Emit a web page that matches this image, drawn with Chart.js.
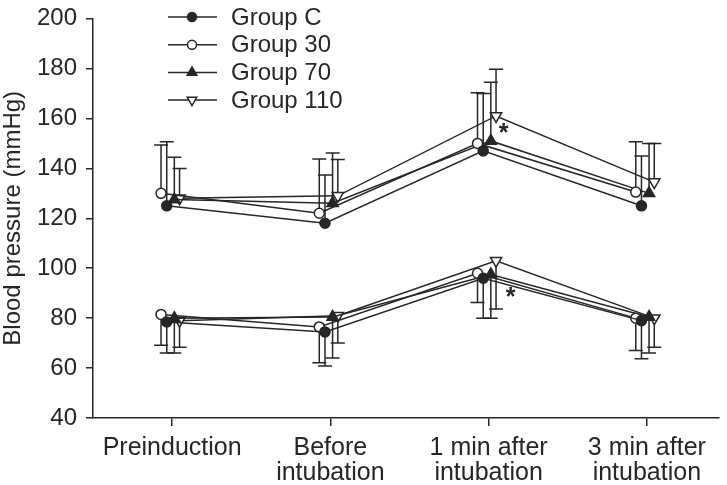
<!DOCTYPE html>
<html>
<head>
<meta charset="utf-8">
<script src="https://cdn.jsdelivr.net/npm/chart.js@4.4.1/dist/chart.umd.min.js"></script>
<style>
html, body { margin: 0; padding: 0; background: #fff; }
#wrap { width: 727px; height: 485px; }
</style>
</head>
<body>
<div id="wrap"><canvas id="bpChart" width="727" height="485"></canvas></div>
<script>
const timePoints = ['Preinduction', ['Before', 'intubation'], ['1 min after', 'intubation'], ['3 min after', 'intubation']];
const groupNames = ['Group C', 'Group 30', 'Group 70', 'Group 110'];
const yTicks = [40, 60, 80, 100, 120, 140, 160, 180, 200];

// systolic pressure (upper curves), mean and SD
const sbpC   = [125, 118, 147, 125];
const sbp30  = [130, 122, 150, 130.5];
const sbp70  = [127.5, 126, 151, 130];
const sbp110 = [128, 129, 161, 134.5];
const sbpSdC   = [25.7, 19.3, 23, 20];
const sbpSd30  = [19.4, 21.8, 20.3, 20.2];
const sbpSd70  = [17, 20.2, 23.5, 20];
const sbpSd110 = [12, 14.6, 18.7, 15.5];

// diastolic pressure (lower curves), mean and SD
const dbpC   = [78.5, 74.5, 96, 79];
const dbp30  = [81.5, 76.5, 98, 80];
const dbp70  = [80, 80.5, 97.5, 80.5];
const dbp110 = [79, 81, 103, 80];
const dbpSdC   = [12.5, 13.7, 16, 15.3];
const dbpSd30  = [12.4, 14.4, 11.7, 13];
const dbpSd70  = [14, 16.5, 17.5, 14.5];
const dbpSd110 = [10.7, 11, 19.3, 11.7];

// significance marks (category index, value)
const starMarks = [[2, 156.5], [2, 91]];

const ink = '#262626';
const font = '"Liberation Sans", Arial, sans-serif';

// small horizontal dodge so the groups don't sit on top of each other
const dodge = [-0.034, -0.07, 0.014, 0.047];
const markerStyle = ['circle', 'circle', 'triangle', 'triangle'];
const markerRot = [0, 0, 0, 180];
const markerFill = [ink, '#fff', ink, '#fff'];
const markerRadius = [5, 5, 6.5, 6.5];

const sbpMeans = [sbpC, sbp30, sbp70, sbp110];
const sbpSds = [sbpSdC, sbpSd30, sbpSd70, sbpSd110];
const dbpMeans = [dbpC, dbp30, dbp70, dbp110];
const dbpSds = [dbpSdC, dbpSd30, dbpSd70, dbpSd110];

function makeDataset(g, means, sds, dir) {
    return {
        label: groupNames[g],
        data: means.map((v, i) => ({ x: i + dodge[g], y: v })),
        sd: sds,
        sdDir: dir,
        borderColor: ink,
        borderWidth: 1.5,
        pointStyle: markerStyle[g],
        rotation: markerRot[g],
        pointRadius: markerRadius[g],
        pointBackgroundColor: markerFill[g],
        pointBorderColor: ink,
        pointBorderWidth: 1.5,
        tension: 0
    };
}

const datasets = [];
for (let g = 0; g < 4; g++) {
    datasets.push(makeDataset(g, sbpMeans[g], sbpSds[g], 1));
    datasets.push(makeDataset(g, dbpMeans[g], dbpSds[g], -1));
}

function drawMarker(ctx, style, rot, r, x, y) {
    ctx.beginPath();
    if (style === 'circle') {
        ctx.arc(x, y, r, 0, Math.PI * 2);
    } else {
        let rad = rot * Math.PI / 180;
        ctx.moveTo(x + Math.sin(rad) * r, y - Math.cos(rad) * r);
        rad += Math.PI * 2 / 3;
        ctx.lineTo(x + Math.sin(rad) * r, y - Math.cos(rad) * r);
        rad += Math.PI * 2 / 3;
        ctx.lineTo(x + Math.sin(rad) * r, y - Math.cos(rad) * r);
        ctx.closePath();
    }
    ctx.fill();
    ctx.stroke();
}

const errorBars = {
    id: 'errorBars',
    beforeDatasetsDraw(chart) {
        const { ctx, scales: { x, y } } = chart;
        ctx.save();
        ctx.strokeStyle = ink;
        ctx.lineWidth = 1.5;
        chart.data.datasets.forEach(ds => {
            ds.data.forEach((p, i) => {
                const px = x.getPixelForValue(p.x);
                const y0 = y.getPixelForValue(p.y);
                const y1 = y.getPixelForValue(p.y + ds.sdDir * ds.sd[i]);
                ctx.beginPath();
                ctx.moveTo(px, y0);
                ctx.lineTo(px, y1);
                ctx.moveTo(px - 7, y1);
                ctx.lineTo(px + 7, y1);
                ctx.stroke();
            });
        });
        ctx.restore();
    },
    afterDatasetsDraw(chart) {
        const { ctx, scales: { x, y } } = chart;
        ctx.save();
        ctx.fillStyle = ink;
        ctx.font = 'bold 25px ' + font;
        ctx.textAlign = 'center';
        ctx.textBaseline = 'alphabetic';
        starMarks.forEach(([cat, val], k) => {
            const px = x.getPixelForValue(cat) + (k === 0 ? 15 : 22);
            ctx.fillText('*', px, y.getPixelForValue(val) + 14);
        });
        ctx.restore();
    }
};

const markerLegend = {
    id: 'markerLegend',
    afterDraw(chart) {
        const ctx = chart.ctx;
        ctx.save();
        ctx.font = '24px ' + font;
        ctx.textBaseline = 'middle';
        ctx.strokeStyle = ink;
        ctx.lineWidth = 1.5;
        groupNames.forEach((name, g) => {
            const yy = 17 + g * 27.7;
            ctx.beginPath();
            ctx.moveTo(168, yy);
            ctx.lineTo(217, yy);
            ctx.stroke();
            ctx.fillStyle = markerFill[g];
            drawMarker(ctx, markerStyle[g], markerRot[g], g < 2 ? 4.5 : 5.5, 192, yy);
            ctx.fillStyle = ink;
            ctx.fillText(name, 231, yy + 1);
        });
        ctx.restore();
    }
};

new Chart(document.getElementById('bpChart'), {
    type: 'line',
    data: { datasets },
    options: {
        responsive: false,
        devicePixelRatio: 1,
        animation: false,
        layout: { padding: { top: 10, right: 1, left: 0, bottom: 0 } },
        plugins: { legend: { display: false }, tooltip: { enabled: false } },
        scales: {
            x: {
                type: 'linear',
                min: -0.5,
                max: 3.456,
                afterBuildTicks: scale => { scale.ticks = timePoints.map((_, i) => ({ value: i })); },
                afterFit: scale => { scale.height = 67; },
                ticks: {
                    callback: v => timePoints[v],
                    color: ink,
                    font: { family: font, size: 25, lineHeight: 1.0 },
                    padding: 10,
                    maxRotation: 0,
                    autoSkip: false
                },
                grid: { drawOnChartArea: false, color: ink, lineWidth: 1.5, tickLength: 8 },
                border: { display: true, color: ink, width: 1.5 }
            },
            y: {
                min: 40,
                max: 200,
                afterBuildTicks: scale => { scale.ticks = yTicks.map(v => ({ value: v })); },
                afterFit: scale => { scale.width = 93; },
                ticks: {
                    color: ink,
                    font: { family: font, size: 24, lineHeight: 0.8 },
                    padding: 9
                },
                title: {
                    display: true,
                    text: 'Blood pressure (mmHg)',
                    color: ink,
                    font: { family: font, size: 24, lineHeight: 1.1 },
                    padding: 0
                },
                grid: { drawOnChartArea: false, color: ink, lineWidth: 1.5, tickLength: 7 },
                border: { display: true, color: ink, width: 1.5 }
            }
        }
    },
    plugins: [errorBars, markerLegend]
});
</script>
</body>
</html>
